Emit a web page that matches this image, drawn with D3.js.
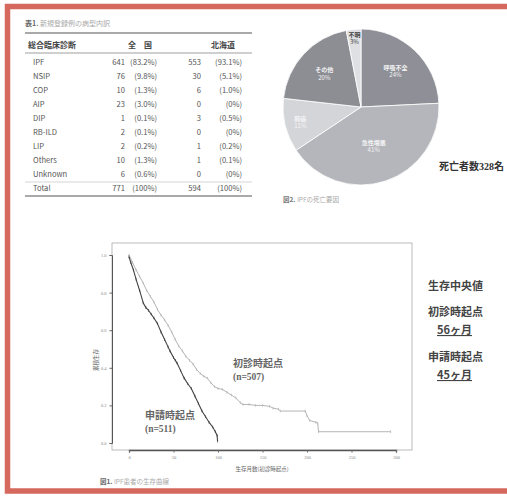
<!DOCTYPE html>
<html>
<head>
<meta charset="utf-8">
<script src="https://cdn.jsdelivr.net/npm/d3@7"></script>
<style>
  html, body { margin: 0; padding: 0; background: #fff; }
  svg { display: block; font-family: "Noto Sans CJK JP", "Noto Sans", sans-serif; }
</style>
</head>
<body>
<svg id="page" width="507" height="497"></svg>
<script>
// ---- Table 1: registered cases by clinical diagnosis ----
const diagnoses = ["IPF", "NSIP", "COP", "AIP", "DIP", "RB-ILD", "LIP", "Others", "Unknown"];
const nationalCounts = [641, 76, 10, 23, 1, 2, 2, 10, 6];
const nationalPct = ["(83.2%)", "(9.8%)", "(1.3%)", "(3.0%)", "(0.1%)", "(0.1%)", "(0.2%)", "(1.3%)", "(0.6%)"];
const hokkaidoCounts = [553, 30, 6, 0, 3, 0, 1, 1, 0];
const hokkaidoPct = ["(93.1%)", "(5.1%)", "(1.0%)", "(0%)", "(0.5%)", "(0%)", "(0.2%)", "(0.1%)", "(0%)"];
const totalRow = ["Total", 771, "(100%)", 594, "(100%)"];

// ---- Figure 2: causes of death (%) ----
const deathCauses = ["呼吸不全", "急性増悪", "肺癌", "その他", "不明"];
const deathShares = [24, 41, 11, 20, 3];
const deathTotal = 328;

// ---- Figure 1: Kaplan-Meier survival (months, cumulative survival) ----
const fromApplicationMonths = [0, 2, 5, 8, 12, 16, 19, 22, 25, 28, 32, 36, 40, 44, 46, 50, 52, 54, 58, 62, 66, 70, 74, 78, 82, 86, 90, 94, 97, 99, 99.5];
const fromApplicationSurv = [0.99, 0.96, 0.92, 0.87, 0.81, 0.745, 0.72, 0.705, 0.685, 0.665, 0.635, 0.59, 0.55, 0.51, 0.49, 0.455, 0.44, 0.425, 0.385, 0.345, 0.315, 0.29, 0.25, 0.21, 0.17, 0.14, 0.11, 0.085, 0.06, 0.04, 0.01];
const fromDiagnosisMonths = [0, 4, 8, 12, 16, 20, 24, 28, 32, 36, 40, 44, 48, 52, 56, 60, 64, 68, 72, 76, 80, 84, 88, 92, 96, 100, 105, 110, 115, 120, 125, 128, 135, 142, 150, 158, 162, 168, 170, 198, 200, 203, 210, 212, 213, 294];
const fromDiagnosisSurv = [1.0, 0.96, 0.92, 0.885, 0.85, 0.81, 0.78, 0.75, 0.71, 0.68, 0.655, 0.625, 0.59, 0.55, 0.515, 0.49, 0.46, 0.44, 0.42, 0.39, 0.37, 0.355, 0.345, 0.32, 0.3, 0.29, 0.285, 0.27, 0.255, 0.24, 0.215, 0.205, 0.205, 0.2, 0.2, 0.195, 0.185, 0.18, 0.17, 0.17, 0.145, 0.12, 0.11, 0.105, 0.06, 0.06];
const xTicks = [0, 50, 100, 150, 200, 250, 300];
const yTicks = [0, 0.2, 0.4, 0.6, 0.8, 1.0];
const medianLines = [["初診時起点", "56ヶ月"], ["申請時起点", "45ヶ月"]];

const SERIF = "'Liberation Serif', 'DejaVu Serif', serif";
const svg = d3.select("#page");

// slide frame
svg.append("rect")
  .attr("x", 7.5).attr("y", 6.5).attr("width", 530).attr("height", 484.5)
  .attr("fill", "none").attr("stroke", "#d6695d").attr("stroke-width", 5.5);

// ================= Table 1 =================
const tbl = svg.append("g");
tbl.append("text").attr("x", 25).attr("y", 26).attr("font-size", 7).attr("fill", "#666")
  .attr("font-weight", "bold").text("表1.")
  .append("tspan").attr("font-weight", "normal").attr("fill", "#aaa").text(" 新規登録例の病型内訳");

const rule = (y, w, c) => tbl.append("line").attr("x1", 25).attr("x2", 252)
  .attr("y1", y).attr("y2", y).attr("stroke", c).attr("stroke-width", w);
rule(33, 1.2, "#555");
rule(53, 0.7, "#777");
rule(182, 0.5, "#aaa");
rule(196, 1.2, "#555");

tbl.append("text").attr("x", 28).attr("y", 47.5).attr("font-size", 8).attr("font-weight", "bold")
  .attr("fill", "#444").text("総合臨床診断");
tbl.append("text").attr("x", 140).attr("y", 47.5).attr("font-size", 8).attr("font-weight", "bold")
  .attr("fill", "#444").attr("text-anchor", "middle").text("全　国");
tbl.append("text").attr("x", 223).attr("y", 47.5).attr("font-size", 8).attr("font-weight", "bold")
  .attr("fill", "#444").attr("text-anchor", "middle").text("北海道");

const rows = diagnoses.map((d, i) => [d, nationalCounts[i], nationalPct[i], hokkaidoCounts[i], hokkaidoPct[i]]);
rows.push(totalRow);
const rowY = d3.scaleLinear().domain([0, 9]).range([65, 191]);
const cell = tbl.selectAll("g.row").data(rows).join("g").attr("class", "row")
  .attr("transform", (d, i) => `translate(0,${rowY(i)})`)
  .attr("font-size", 7.6).attr("fill", "#555");
cell.append("text").attr("x", 33).text(d => d[0]);
cell.append("text").attr("x", 125).attr("text-anchor", "end").text(d => d[1]);
cell.append("text").attr("x", 157).attr("text-anchor", "end").text(d => d[2]);
cell.append("text").attr("x", 201).attr("text-anchor", "end").text(d => d[3]);
cell.append("text").attr("x", 242).attr("text-anchor", "end").text(d => d[4]);

// ================= Figure 2: pie =================
const pieR = 78;
const pieG = svg.append("g").attr("transform", "translate(361,107)");
const sliceColor = d3.scaleOrdinal().domain(deathCauses)
  .range(["#8f9097", "#b5b6bb", "#d4d5d9", "#8d8e94", "#dfe0e3"]);
const pie = d3.pie().sort(null).value(d => d.v);
const arcs = pie(deathCauses.map((c, i) => ({ c, v: deathShares[i] })));
const arc = d3.arc().innerRadius(0).outerRadius(pieR);
pieG.selectAll("path").data(arcs).join("path")
  .attr("d", arc).attr("fill", d => sliceColor(d.data.c))
  .attr("stroke", "#fff").attr("stroke-width", 0.8);
const labelFrac = v => v < 5 ? 0.89 : v < 15 ? 0.8 : v > 30 ? 0.52 : 0.64;
const lab = pieG.selectAll("g.lab").data(arcs).join("g").attr("class", "lab")
  .attr("transform", d => {
    const r = pieR * labelFrac(d.data.v);
    const a = (d.startAngle + d.endAngle) / 2;
    return `translate(${r * Math.sin(a)},${-r * Math.cos(a)})`;
  })
  .attr("fill", d => d.data.v < 5 ? "#444" : "#f4f4f6")
  .attr("font-size", 6).attr("text-anchor", "middle");
lab.append("text").attr("y", -1).attr("font-weight", "bold").text(d => d.data.c);
lab.append("text").attr("y", 6.5).text(d => d.data.v + "%");

const dead = svg.append("text").attr("x", 439).attr("y", 170).attr("font-size", 10)
  .attr("font-weight", "bold").attr("fill", "#333");
dead.append("tspan").text("死亡者数");
dead.append("tspan").style("font-family", SERIF).text(deathTotal);
dead.append("tspan").text("名");

svg.append("text").attr("x", 283).attr("y", 202).attr("font-size", 6.5).attr("fill", "#777")
  .attr("font-weight", "bold").text("図2.")
  .append("tspan").attr("font-weight", "normal").attr("fill", "#aaa").text(" IPFの死亡要因");

// ================= Figure 1: survival curves =================
const x = d3.scaleLinear().domain([0, 300]).range([129, 396]);
const y = d3.scaleLinear().domain([0, 1]).range([443, 255]);

svg.append("rect").attr("x", 112).attr("y", 243).attr("width", 300).attr("height", 207)
  .attr("fill", "none").attr("stroke", "#aaa").attr("stroke-width", 0.8);

const yAx = svg.append("g").attr("transform", "translate(112,0)")
  .call(d3.axisLeft(y).tickValues(yTicks).tickSize(2.5).tickFormat(d3.format(".1f")));
const xAx = svg.append("g").attr("transform", "translate(0,450)")
  .call(d3.axisBottom(x).tickValues(xTicks).tickSize(2.5));
[yAx, xAx].forEach(g => {
  g.select(".domain").attr("stroke", "#555").attr("stroke-width", 1);
  g.selectAll(".tick line").attr("stroke", "#666");
  g.selectAll(".tick text").attr("font-size", 4.5).attr("fill", "#888")
    .style("font-family", SERIF);
});
xAx.select(".domain").attr("stroke-width", 1.3);

svg.append("text").attr("transform", "translate(98,360) rotate(-90)")
  .attr("font-size", 5.5).attr("fill", "#666").attr("text-anchor", "middle").text("累積生存");
svg.append("text").attr("x", 262).attr("y", 471).attr("font-size", 5.5).attr("fill", "#666")
  .attr("text-anchor", "middle").text("生存月数(初診時起点)");
svg.append("text").attr("x", 100).attr("y", 484).attr("font-size", 6.5).attr("fill", "#666")
  .attr("font-weight", "bold").text("図1.")
  .append("tspan").attr("font-weight", "normal").attr("fill", "#aaa").text(" IPF患者の生存曲線");

const km = d3.line().x(d => x(d[0])).y(d => y(d[1]));
const curves = [
  { m: fromDiagnosisMonths, s: fromDiagnosisSurv, color: "#b5b5b5", w: 1 },
  { m: fromApplicationMonths, s: fromApplicationSurv, color: "#444", w: 1.1 }
];
curves.forEach(c => {
  const pts = c.m.map((m, i) => [m, c.s[i]]);
  svg.append("path").attr("d", km(pts)).attr("fill", "none")
    .attr("stroke", c.color).attr("stroke-width", c.w).attr("stroke-linejoin", "round");
  // censor marks
  svg.append("g").selectAll("line").data(pts).join("line")
    .attr("x1", d => x(d[0])).attr("x2", d => x(d[0]))
    .attr("y1", d => y(d[1]) - 1.3).attr("y2", d => y(d[1]) + 1.3)
    .attr("stroke", c.color).attr("stroke-width", 0.8);
});

const curveLabel = (xx, yy, t1, t2) => {
  svg.append("text").attr("x", xx).attr("y", yy).attr("font-size", 10).attr("font-weight", "bold")
    .attr("fill", "#666").text(t1);
  svg.append("text").attr("x", xx).attr("y", yy + 13).attr("font-size", 9.5).attr("font-weight", "bold")
    .style("font-family", SERIF).attr("fill", "#666").text(t2);
};
curveLabel(233, 367, "初診時起点", "(n=507)");
curveLabel(145, 419, "申請時起点", "(n=511)");

// ---- median survival notes ----
const note = svg.append("g").attr("font-size", 11).attr("font-weight", "bold").attr("fill", "#444");
note.append("text").attr("x", 428).attr("y", 290).text("生存中央値");
medianLines.forEach((m, i) => {
  const by = 316 + i * 45;
  note.append("text").attr("x", 428).attr("y", by).text(m[0]);
  note.append("text").attr("x", 437).attr("y", by + 18).attr("text-decoration", "underline").text(m[1]);
});
</script>
</body>
</html>
